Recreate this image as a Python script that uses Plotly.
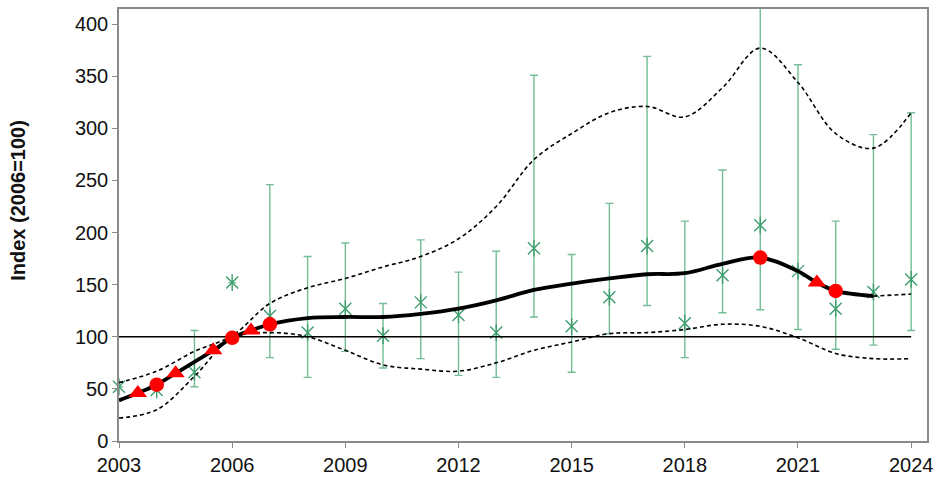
import plotly.graph_objects as go

# Annual index observations with confidence limits
obs_years = [2003, 2004, 2005, 2006, 2007, 2008, 2009, 2010, 2011, 2012, 2013,
             2014, 2015, 2016, 2017, 2018, 2019, 2020, 2021, 2022, 2023, 2024]
obs_index = [52, 49, 66, 152, 120, 104, 127, 101, 133, 121, 104,
             185, 110, 138, 187, 113, 159, 207, 163, 127, 143, 155]
obs_upper = [None, None, 106, None, 246, 177, 190, 132, 193, 162, 182,
             351, 179, 228, 369, 211, 260, 440, 361, 211, 294, 315]
obs_lower = [None, None, 52, None, 80, 61, 86, 70, 79, 63, 61,
             119, 66, 103, 130, 80, 123, 126, 107, 88, 92, 106]

# Smoothed trend (solid part) and its projection to the final year
trend_years = [2003, 2003.5, 2004, 2004.5, 2005, 2005.5, 2006, 2006.5, 2007, 2008,
               2009, 2010, 2011, 2012, 2013, 2014, 2015, 2016, 2017, 2018,
               2019, 2020, 2021, 2021.5, 2022, 2023]
trend_index = [39, 46, 54, 65, 76, 87, 99, 106, 112, 118,
               119, 119, 122, 127, 135, 145, 151, 156, 160, 161,
               170, 176, 163, 152, 144, 139]
proj_years = [2023, 2024]
proj_index = [139, 141]

# Confidence band of the smoothed trend
band_years = [2003, 2004, 2005, 2006, 2007, 2008, 2009, 2010, 2011, 2012, 2013,
              2014, 2015, 2016, 2017, 2018, 2019, 2020, 2021, 2022, 2023, 2024]
band_upper = [56, 67, 86, 101, 132, 147, 156, 167, 177, 194, 225,
              270, 295, 315, 321, 311, 339, 377, 344, 295, 281, 315]
band_lower = [22, 30, 62, 99, 104, 100, 87, 73, 69, 67, 75,
              87, 95, 103, 104, 107, 112, 110, 99, 84, 79, 79]

# Significant changes along the trend
circle_years = [2004, 2006, 2007, 2020, 2022]
circle_index = [54, 99, 112, 176, 144]
triangle_years = [2003.5, 2004.5, 2005.5, 2006.5, 2021.5]
triangle_index = [46, 65, 87, 106, 152]

ref_years = [2003, 2024]
ref_level = [100, 100]

GREEN = "#3c9e6c"
GREEN_BAR = "#74bd96"
RED = "#ff0000"

err_plus = [None if u is None else u - v for u, v in zip(obs_upper, obs_index)]
err_minus = [None if l is None else v - l for l, v in zip(obs_lower, obs_index)]

fig = go.Figure()

# error bars of the observations (clipped to the plot area)
fig.add_trace(go.Scatter(
    x=obs_years, y=obs_index, mode="markers",
    marker=dict(size=1, color="rgba(0,0,0,0)"),
    error_y=dict(type="data", symmetric=False,
                 array=[0 if e is None else e for e in err_plus],
                 arrayminus=[0 if e is None else e for e in err_minus],
                 color=GREEN_BAR, thickness=1.4, width=4),
    showlegend=False, hoverinfo="skip"))
# star marker: diagonal cross plus a vertical stroke
for sym in ("x-thin-open", "line-ns-open"):
    fig.add_trace(go.Scatter(
        x=obs_years, y=obs_index, mode="markers", cliponaxis=False,
        marker=dict(symbol=sym, size=12, color=GREEN,
                    line=dict(color=GREEN, width=1.4)),
        showlegend=False, hoverinfo="skip"))

# reference level
fig.add_trace(go.Scatter(
    x=ref_years, y=ref_level, mode="lines",
    line=dict(color="black", width=1.5),
    showlegend=False, hoverinfo="skip"))

# confidence band
for vals in (band_upper, band_lower):
    fig.add_trace(go.Scatter(
        x=band_years, y=vals, mode="lines",
        line=dict(color="black", width=1.6, dash="4px,3px", shape="spline", smoothing=1),
        showlegend=False, hoverinfo="skip"))

# trend
fig.add_trace(go.Scatter(
    x=trend_years, y=trend_index, mode="lines",
    line=dict(color="black", width=3.8, shape="spline", smoothing=1),
    showlegend=False, hoverinfo="skip"))
fig.add_trace(go.Scatter(
    x=proj_years, y=proj_index, mode="lines",
    line=dict(color="black", width=1.6, dash="4px,3px"),
    showlegend=False, hoverinfo="skip"))

# change points
fig.add_trace(go.Scatter(
    x=triangle_years, y=triangle_index, mode="markers",
    marker=dict(symbol="triangle-up", size=16, color=RED),
    showlegend=False, hoverinfo="skip"))
fig.add_trace(go.Scatter(
    x=circle_years, y=circle_index, mode="markers",
    marker=dict(symbol="circle", size=14.5, color=RED),
    showlegend=False, hoverinfo="skip"))

FONT = "Liberation Sans, Arial, sans-serif"

fig.update_layout(
    width=936, height=477,
    margin=dict(l=119, r=9, t=9, b=36),
    paper_bgcolor="white", plot_bgcolor="white",
    font=dict(family=FONT, size=20, color="#111111"),
    xaxis=dict(range=[2003, 2024.42], tickmode="array",
               tickvals=[2003, 2006, 2009, 2012, 2015, 2018, 2021, 2024],
               ticktext=["2003", "2006", "2009", "2012", "2015", "2018", "2021", "2024"],
               showgrid=False, zeroline=False, automargin=False,
               showline=True, linecolor="#8a8a8a", linewidth=1.5, mirror=True,
               ticks="outside", ticklen=5, tickcolor="#8a8a8a", tickwidth=1.2),
    yaxis=dict(range=[0, 414.5], tickmode="linear", tick0=0, dtick=50,
               showgrid=False, zeroline=False, automargin=False,
               showline=True, linecolor="#8a8a8a", linewidth=1.5, mirror=True,
               ticks="outside", ticklen=5, tickcolor="#8a8a8a", tickwidth=1.2),
    annotations=[dict(text="<b>Index (2006=100)</b>", textangle=-90,
                      xref="paper", yref="paper", x=-0.125, y=0.556,
                      xanchor="center", yanchor="middle", showarrow=False,
                      font=dict(family=FONT, size=20, color="#111111"))],
)

fig.write_html("out.html")
